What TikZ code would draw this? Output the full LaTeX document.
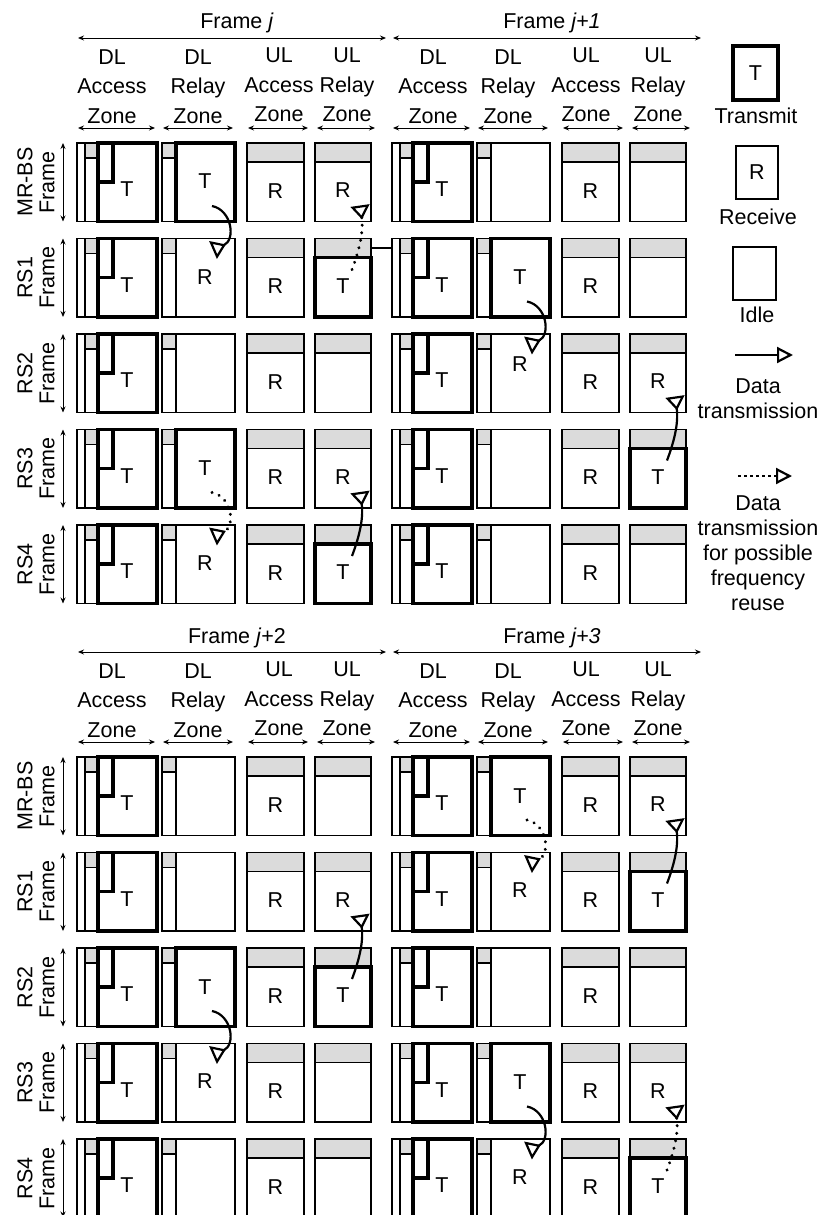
\documentclass[tikz,border=0pt]{standalone}
\usepackage{fontspec}
\setmainfont{Liberation Sans}
\usetikzlibrary{arrows.meta,calc}

\tikzset{
  lab/.style={font=\fontsize{21.5}{29.5}\selectfont, inner sep=0pt},
  leglab/.style={font=\fontsize{21.5}{25}\selectfont, inner sep=0pt, align=center},
  rowlab/.style={font=\fontsize{21.5}{22}\selectfont, inner sep=0pt, align=center, rotate=90},
  cellbox/.style={draw, line width=1.2pt, rectangle, inner sep=0pt, outer sep=0pt, anchor=north west},
  thinline/.style={line width=1.2pt},
  txline/.style={line width=3.6pt},
  hdrfill/.style={fill=gray!28},
  dimarrow/.style={line width=0.9pt, {Stealth[length=6pt,width=5pt]}-{Stealth[length=6pt,width=5pt]}},
  solidarr/.style={line width=2.2pt, -{Triangle[open, reversed, length=14pt, width=19pt]}},
  dotarr/.style={line width=3.2pt, line cap=round, dash pattern=on 0.1pt off 7.5pt, -{Triangle[open, reversed, length=14pt, width=19pt, line width=2.2pt]}},
  legsolid/.style={line width=2.2pt, -{Triangle[open, length=16pt, width=16pt]}},
  legdot/.style={line width=2.2pt, dash pattern=on 3pt off 3pt, -{Triangle[open, length=16pt, width=16pt]}},
}

% DL access zone cell (always transmit)
\newcommand{\cellDLA}[3]{%
  \fill[hdrfill] (#2+8,#3) rectangle (#2+21,#3+15);
  \node[cellbox, minimum width=80pt, minimum height=78.5pt] (#1) at (#2,#3) {};
  \draw[thinline] (#2+8,#3) -- (#2+8,#3+78.5);
  \draw[thinline] (#2+8,#3+15) -- (#2+21,#3+15);
  \draw[txline] (#2+21,#3) rectangle (#2+80,#3+78.5);
  \draw[txline] (#2+36,#3) -- (#2+36,#3+39) -- (#2+21,#3+39);
  \node[lab] (#1l) at (#2+50,#3+46.5) {T};
}
% DL relay zone cell: #4 = T/R/I, #5 = label y offset
\newcommand{\cellDLR}[5]{%
  \fill[hdrfill] (#2,#3) rectangle (#2+14,#3+15);
  \node[cellbox, minimum width=73pt, minimum height=78.5pt] (#1) at (#2,#3) {};
  \draw[thinline] (#2+14,#3) -- (#2+14,#3+78.5);
  \draw[thinline] (#2,#3+15) -- (#2+14,#3+15);
  \if#4T\draw[txline] (#2+14,#3) rectangle (#2+73,#3+78.5);\fi
  \if#4I\else\node[lab] (#1l) at (#2+43,#3+#5) {#4};\fi
}
% UL access zone cell (always receive)
\newcommand{\cellULA}[3]{%
  \fill[hdrfill] (#2,#3) rectangle (#2+57,#3+19);
  \node[cellbox, minimum width=57pt, minimum height=78.5pt] (#1) at (#2,#3) {};
  \draw[thinline] (#2,#3+19) -- (#2+57,#3+19);
  \node[lab] (#1l) at (#2+28.5,#3+48) {R};
}
% UL relay zone cell: #4 = T/R/I
\newcommand{\cellULR}[4]{%
  \fill[hdrfill] (#2,#3) rectangle (#2+56,#3+19);
  \node[cellbox, minimum width=56pt, minimum height=78.5pt] (#1) at (#2,#3) {};
  \draw[thinline] (#2,#3+19) -- (#2+56,#3+19);
  \if#4T\draw[txline] (#2,#3+19) rectangle (#2+56,#3+78.5);\fi
  \if#4I\else\node[lab] (#1l) at (#2+28,#3+47.5) {#4};\fi
}
\newcommand{\frameblock}[4]{%
  \foreach \r/\y/\a/\b/\d in {#4} {
    \cellDLA{c#1\r1}{77+#2}{\y+#3}
    \cellDLR{c#1\r2}{162+#2}{\y+#3}{\a}{\d}
    \cellULA{c#1\r3}{247+#2}{\y+#3}
    \cellULR{c#1\r4}{315+#2}{\y+#3}{\b}
  }
}
% headers: #1 id, #2 fx, #3 fy, #4 label, #5-#8 text x
\newcommand{\hdr}[8]{%
  \node[lab, anchor=base] (fl#1) at (237+#2, 29+#3) {#4};
  \draw[dimarrow] (78+#2, 38+#3) -- (386+#2, 38+#3);
  \node[lab, align=center] (ha#1) at (#5, 86.5+#3) {DL\\Access\\Zone};
  \node[lab, align=center] (hb#1) at (#6, 86.5+#3) {DL\\Relay\\Zone};
  \node[lab, align=center] (hc#1) at (#7, 85+#3) {UL\\Access\\Zone};
  \node[lab, align=center] (hd#1) at (#8, 85+#3) {UL\\Relay\\Zone};
  \draw[dimarrow] (78+#2,128+#3) -- (155+#2,128+#3);
  \draw[dimarrow] (163+#2,128+#3) -- (233+#2,128+#3);
  \draw[dimarrow] (248+#2,128+#3) -- (308+#2,128+#3);
  \draw[dimarrow] (317+#2,128+#3) -- (375+#2,128+#3);
}
\newcommand{\rowlabels}[2]{%
  \foreach \r/\y/\t in {1/143/MR-BS, 2/238.5/RS1, 3/334/RS2, 4/429.5/RS3, 5/525/RS4} {
    \node[rowlab] (rl#1\r) at (36, \y+#2+39.25) {\t\\Frame};
    \draw[dimarrow] (63,\y+#2) -- (63,\y+#2+78.5);
  }
}
\newcommand{\dldown}[2]{%
  \draw[#2] ($(#1.north west)+(50,63)$) .. controls ($(#1.north west)+(70,67)$) and ($(#1.north west)+(74,97)$) .. ($(#1.north west)+(51,107)$);}
\newcommand{\ulup}[2]{%
  \draw[#2] ($(#1.north west)+(37,31)$) .. controls ($(#1.north west)+(43,15)$) and ($(#1.north west)+(49,-5)$) .. ($(#1.north west)+(45,-33)$);}

\begin{document}
\begin{tikzpicture}[x=1pt,y=-1pt]
\useasboundingbox (0,0) rectangle (829,1215);

\hdr{1}{0}{0}{Frame \textit{j}}{112}{198}{279}{347}
\hdr{2}{315}{0}{Frame \textit{j+1}}{433}{508}{586}{658}
\hdr{3}{0}{614}{Frame \textit{j}+2}{112}{198}{279}{347}
\hdr{4}{315}{614}{Frame \textit{j+3}}{433}{508}{586}{658}

\rowlabels{a}{0}
\rowlabels{b}{614}

\frameblock{1}{0}{0}{1/143/T/R/38, 2/238.5/R/T/39, 3/334/I/I/39, 4/429.5/T/R/38.5, 5/525/R/T/38}
\frameblock{2}{315}{0}{1/143/I/I/39, 2/238.5/T/I/39, 3/334/R/R/30, 4/429.5/I/T/39, 5/525/I/I/39}
\frameblock{3}{0}{614}{1/143/I/I/39, 2/238.5/I/R/39, 3/334/T/T/39, 4/429.5/R/I/38, 5/525/I/I/39}
\frameblock{4}{315}{614}{1/143/T/R/39, 2/238.5/R/T/38, 3/334/I/I/39, 4/429.5/T/R/39, 5/525/R/T/38}

% short link line between frame j and frame j+1 (RS1)
\draw[line width=1.6pt] ($(c124.north east)+(1,9.5)$) -- ($(c221.north west)+(0,9.5)$);

% transmissions
\dldown{c112}{solidarr}
\ulup{c124}{dotarr}
\dldown{c142}{dotarr}
\ulup{c154}{solidarr}
\dldown{c222}{solidarr}
\ulup{c244}{solidarr}
\dldown{c332}{solidarr}
\ulup{c334}{solidarr}
\dldown{c412}{dotarr}
\ulup{c424}{solidarr}
\dldown{c442}{solidarr}
\ulup{c454}{dotarr}

% legend
\node[draw, line width=3.6pt, minimum width=45pt, minimum height=54pt, lab] (legT) at (755.5,73) {T};
\node[lab] (legTt) at (756,116) {Transmit};
\node[draw, line width=1.2pt, minimum width=42pt, minimum height=53pt, lab] (legR) at (757,172.5) {R};
\node[lab] (legRt) at (758,217) {Receive};
\node[draw, line width=1.2pt, minimum width=43pt, minimum height=53pt, inner sep=0pt] (legI) at (754.5,273.5) {};
\node[lab] (legIt) at (757,315) {Idle};
\coordinate (ls1) at (735,355);
\coordinate (ls2) at (793,355);
\draw[legsolid] (ls1) -- (ls2);
\node[leglab] (legDt) at (758,399) {Data\\transmission};
\coordinate (ld1) at (738,476);
\coordinate (ld2) at (792,476);
\draw[legdot] (ld1) -- (ld2);
\node[leglab] (legFt) at (758,553) {Data\\transmission\\for possible\\frequency\\reuse};
\end{tikzpicture}
\end{document}
